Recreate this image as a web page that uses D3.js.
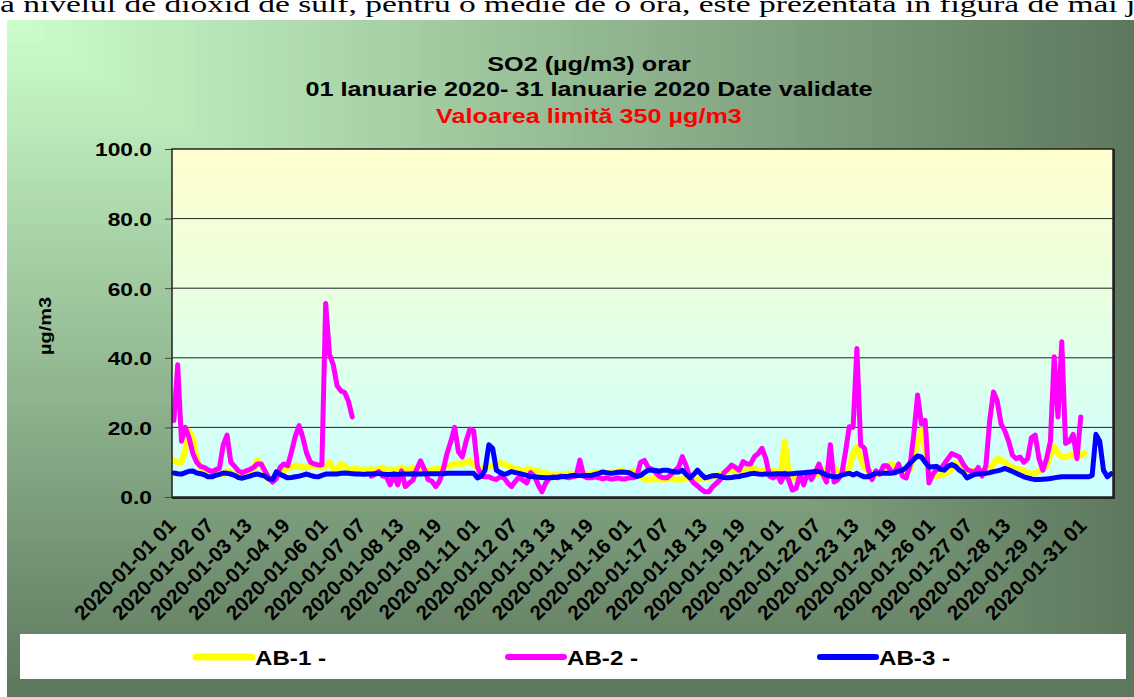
<!DOCTYPE html>
<html>
<head>
<meta charset="utf-8">
<script src="https://cdn.jsdelivr.net/npm/d3@7"></script>
<style>
  body { margin: 0; background: #fff; overflow: hidden; }
  svg { display: block; }
  .sans { font-family: "Liberation Sans", Arial, sans-serif; font-weight: bold; }
</style>
</head>
<body>
<div id="chart"></div>
<script>
// hourly categories, 01.01.2020 01h .. 31.01.2020 24h; one reading kept every 3 hours
const hourCount = 744;
const step = 3;

const tickLabels = [
  "2020-01-01 01", "2020-01-02 07", "2020-01-03 13", "2020-01-04 19", "2020-01-06 01",
  "2020-01-07 07", "2020-01-08 13", "2020-01-09 19", "2020-01-11 01", "2020-01-12 07",
  "2020-01-13 13", "2020-01-14 19", "2020-01-16 01", "2020-01-17 07", "2020-01-18 13",
  "2020-01-19 19", "2020-01-21 01", "2020-01-22 07", "2020-01-23 13", "2020-01-24 19",
  "2020-01-26 01", "2020-01-27 07", "2020-01-28 13", "2020-01-29 19", "2020-01-31 01"
];
const yTicks = [0, 20, 40, 60, 80, 100];

const ab1 = [
  10.5, 10, 10, 13.5, 19, 17, 11, 8.5, 7.5, 7,
  6.5, 7, 7, 6.5, 7.5, 7, 6.5, 7, 6.5, 7,
  7.5, 8, 10.5, 9.5, 7, 5, 5, 5.5, 6.5, 7.5,
  8.5, 8.5, 9, 9, 8.5, 8.5, 9, 9, 9, 8.5,
  9, 10, 8, 7.7, 9.5, 9, 7.5, 8, 8.3, 7.5,
  8, 7.7, 8, 7.7, 8, 8.5, 7.5, 8, 7.5, 8,
  8.5, 8, 7.5, 8.5, 8, 7.5, 8, 7.5, 8, 8,
  8, 8.5, 9, 9, 9.5, 9.7, 9.5, 10, 10.4, 9.5,
  8.5, 8, 8.5, 9, 9, 9.5, 9.8, 9.5, 9, 8.5,
  8, 8, 7.5, 8, 8, 7.5, 7.5, 7, 7, 6.5,
  6.5, 6.5, 6.5, 6.5, 6.8, 6.5, 6.5, 6.5, 6.8, 6.5,
  6.8, 7, 6.8, 7, 7, 7, 7.2, 7.5, 7.5, 7.2,
  7, 7.5, 7, 6, 5, 5, 5, 5.5, 5, 5,
  5, 5.5, 5, 5, 5, 5.5, 5.5, 5, 5, 5.2,
  5.5, 5.5, 5.8, 6, 6.5, 7, 7.5, 7.7, 7.5, 6.6,
  7, 7.8, 8.5, 8, 7.5, 7.7, 7.7, 7.5, 7.5, 7,
  7, 15.9, 7, 5.5, 5.5, 6, 6, 6, 6.2, 6.5,
  6.6, 7, 8, 9.6, 8.5, 7.5, 7.5, 8, 8.5, 12.5,
  14.4, 11, 8.5, 7.5, 7, 6.6, 6.8, 7.5, 8.5, 9.5,
  9, 8, 7.5, 7.5, 8, 12, 15, 19.2, 14, 6.6,
  6, 6, 6.2, 6.6, 7, 8, 9.7, 9, 8, 7.5,
  7.5, 7.5, 7.5, 7.5, 7.5, 8, 9.5, 11, 10.5, 10,
  9, 8.5, 8, 8, 7.5, 7, 6.6, 7, 7.5, 8,
  9, 12, 14.4, 12.5, 11.5, 11.5, 12, 12, 11.5, 12,
  12.6, null, null, null, null, null, null, null
];

const ab2 = [
  22, 38, 16, 20, 17, 12.5, 10, 8.8, 8.5, 7.8,
  7.3, 7.8, 8.3, 15, 17.8, 10, 8.8, 7.5, 7, 7.5,
  7.9, 8.5, 9.5, 9.5, 7.5, 5.5, 4.3, 5.3, 8.5, 9.5,
  9, 13, 17.5, 20.5, 17, 12.5, 10, 9.5, 9.2, 9.2,
  55.6, 41, 38, 32, 30.5, 30, 27.5, 23, null, null,
  null, null, 6, 6.5, 7.3, 6, 5.8, 3.5, 6.5, 3.5,
  7.5, 3, 4, 4.8, 8, 10.4, 8, 5, 4.5, 3,
  4.5, 8, 12.6, 16, 20, 13, 11.5, 16, 19.5, 19,
  8.7, 6, 5.8, 5.8, 5.3, 5, 5.8, 5.5, 4, 3,
  4.5, 5.8, 4.8, 4, 7, 6, 3.5, 1.5, 4, 5.5,
  5.8, 5.5, 6, 5.8, 5.5, 5.8, 6, 10.6, 6, 5.5,
  5.5, 5.8, 5.5, 5.2, 5.5, 5.2, 5.2, 5.5, 5.2, 5.2,
  5.5, 5.5, 6, 10, 10.5, 8.5, 8, 7, 5.9, 5.5,
  5.5, 6.5, 7.5, 8.5, 11.6, 9, 5.5, 4, 3.2, 2.2,
  1.5, 1.5, 3, 4, 5, 7, 8, 9.2, 8.5, 7.7,
  10.2, 9.5, 9.5, 11.6, 12.5, 14, 11, 6, 5.5, 6.5,
  4.3, 6.9, 5, 2, 2.5, 6.5, 3.5, 7, 5, 7,
  9.5, 6.5, 4.3, 15, 4.3, 5, 6.5, 13, 20.2, 20,
  42.7, 15, 14, 8, 5, 7.5, 6.5, 9, 9, 7.5,
  7, 9.5, 6, 5.5, 9, 18, 29.3, 21, 22, 4,
  6.5, 8, 8, 9.5, 11, 12.5, 12, 11.5, 9.5, 8,
  7.5, 7, 8.5, 6, 9, 22, 30.2, 27.5, 21, 19,
  16, 12, 11, 11.5, 10, 11, 17, 17.8, 11, 7.7,
  11, 16, 40.3, 23, 44.6, 15.4, 16, 18, 11, 23,
  null, null, null, null, null, null, null, null
];

const ab3 = [
  6.9, 6.7, 6.6, 7, 7.4, 7.5, 6.9, 6.7, 6.4, 5.8,
  5.8, 6.2, 6.5, 6.9, 6.8, 6.6, 6.2, 5.6, 5.4, 5.7,
  6, 6.4, 6.6, 6.3, 6, 5.2, 5, 7.2, 6.5, 6,
  5.5, 5.6, 5.8, 6, 6.3, 6.6, 6.2, 5.9, 5.8, 6.2,
  6.6, 6.6, 6.6, 6.6, 6.8, 6.9, 6.8, 6.7, 6.6, 6.6,
  6.5, 6.6, 6.6, 6.7, 6.8, 6.6, 6.5, 6.5, 6.6, 6.5,
  6.6, 6.6, 6.6, 6.7, 6.6, 6.6, 6.7, 6.7, 6.7, 6.7,
  6.7, 6.7, 6.8, 6.8, 6.8, 6.8, 6.8, 6.8, 6.8, 6.8,
  5.5, 6, 7.7, 15, 14, 7.7, 7, 6.5, 6.8, 7.3,
  7, 6.8, 6.5, 6.2, 5.9, 5.8, 5.7, 5.6, 5.5, 5.5,
  5.6, 5.7, 5.8, 5.9, 6, 6.2, 6.2, 6.2, 6.2, 6.2,
  6.2, 6.5, 6.8, 7.2, 7, 6.8, 6.9, 7.1, 7.2, 7.1,
  7, 6.4, 5.9, 6.2, 7, 7.7, 7.7, 7.6, 7.4, 7.7,
  7.7, 7.4, 7.2, 7.2, 7.7, 6.5, 5.5, 6.5, 7.7, 6.5,
  5.5, 5.8, 6.1, 6.2, 5.9, 5.6, 5.5, 5.6, 5.8, 5.9,
  6.2, 6.4, 6.7, 6.8, 6.6, 6.5, 6.6, 6.6, 6.6, 6.7,
  6.7, 6.6, 6.6, 6.7, 6.8, 6.9, 7, 7.1, 7.2, 7.3,
  7.3, 6.8, 6.3, 6, 5.8, 5.8, 6.3, 6.6, 6.8, 6.3,
  6.8, 6.2, 5.8, 5.8, 6.3, 6.8, 6.8, 6.8, 6.8, 6.8,
  7, 7.5, 7.7, 8.5, 9.7, 10.8, 11.8, 11.5, 10, 8.6,
  8.7, 8.8, 8, 7.7, 8.8, 9.3, 8.8, 7.7, 7, 5.5,
  6, 6.5, 6.6, 6.7, 6.8, 7, 7.3, 7.5, 7.8, 8.2,
  7.8, 7.3, 6.8, 6.3, 5.8, 5.5, 5.2, 5, 5, 5.1,
  5.2, 5.3, 5.5, 5.7, 5.8, 5.8, 5.8, 5.8, 5.8, 5.8,
  5.8, 5.8, 6.2, 18, 16, 7.7, 5.8, 6.7
];

const seriesNames = ["AB-1 -", "AB-2 -", "AB-3 -"];
const seriesColors = ["#ffff00", "#ff00ff", "#0000ff"];
const seriesWidths = [6, 5, 5];
const seriesData = [ab1, ab2, ab3];

const W = 1134, H = 697;
const frame = { x: 7, y: 20, w: 1127, h: 677 };
const plot = { left: 172, right: 1113, top: 149, bottom: 497 };
const sx = 1.2; // the picture is stretched sideways

const svg = d3.select("#chart").append("svg")
  .attr("width", W)
  .attr("height", H);

const defs = svg.append("defs");
const plotGrad = defs.append("linearGradient")
  .attr("id", "plotGrad")
  .attr("x1", 0).attr("y1", 0).attr("x2", 0).attr("y2", 1);
plotGrad.append("stop").attr("offset", 0).attr("stop-color", "#ffffcc");
plotGrad.append("stop").attr("offset", 1).attr("stop-color", "#ccffff");

// page text above the chart, cut by the top edge as in the document
const introText = "a nivelul de dioxid de sulf, pentru o medie de o oră, este prezentată în figura de mai jos.";
const intro = svg.append("text")
  .attr("font-family", "'Liberation Serif', 'Times New Roman', serif")
  .attr("font-size", 24)
  .text(introText);
const introLen = intro.node().getSubStringLength(0, introText.indexOf("jos") + 1);
intro.attr("transform", `translate(0,12) scale(${1136 / introLen},1)`);

// chart background: light corner top-left, darkening toward right and bottom
const bgColor = d3.interpolateRgb("#ccffcc", "#5e785e");
const bgSteps = d3.range(120, 0, -1).map(k => k / 120);
svg.append("g").selectAll("rect")
  .data(bgSteps)
  .join("rect")
    .attr("x", frame.x)
    .attr("y", frame.y)
    .attr("width", t => frame.w * t + 1)
    .attr("height", t => frame.h * t + 1)
    .attr("fill", t => bgColor(t));

const x = d3.scaleLinear().domain([0, hourCount]).range([plot.left, plot.right]);
const y = d3.scaleLinear().domain([0, 100]).range([plot.bottom, plot.top]);

// titles
const titles = [
  { text: "SO2 (µg/m3) orar", y: 71, color: "#000" },
  { text: "01 Ianuarie 2020- 31 Ianuarie 2020 Date validate", y: 96, color: "#000" },
  { text: "Valoarea limită 350 µg/m3", y: 123, color: "#ff0000" }
];
svg.append("g").selectAll("text")
  .data(titles)
  .join("text")
    .attr("class", "sans")
    .attr("font-size", 21)
    .attr("text-anchor", "middle")
    .attr("fill", d => d.color)
    .attr("transform", d => `translate(589,${d.y}) scale(${sx},1)`)
    .text(d => d.text);

// plot area
svg.append("rect")
  .attr("x", plot.left)
  .attr("y", plot.top)
  .attr("width", plot.right - plot.left)
  .attr("height", plot.bottom - plot.top)
  .attr("fill", "url(#plotGrad)");

svg.append("g").selectAll("line")
  .data(yTicks.filter(v => v > 0 && v < 100))
  .join("line")
    .attr("x1", plot.left)
    .attr("x2", plot.right)
    .attr("y1", d => y(d))
    .attr("y2", d => y(d))
    .attr("stroke", "#222")
    .attr("stroke-width", 1);

// y axis
const yAxis = svg.append("g")
  .attr("class", "sans")
  .attr("transform", `translate(${plot.left},0)`)
  .call(d3.axisLeft(y).tickValues(yTicks).tickSize(7).tickFormat(d3.format(".1f")));
yAxis.select(".domain").remove();
yAxis.selectAll(".tick line").attr("stroke", "#444");
yAxis.selectAll(".tick text")
  .attr("x", 0)
  .attr("dy", "0.36em")
  .attr("font-size", 19)
  .attr("font-family", "'Liberation Sans', Arial, sans-serif")
  .attr("fill", "#000")
  .attr("text-anchor", "end")
  .attr("transform", `translate(-20,0) scale(${sx},1)`);

svg.append("text")
  .attr("class", "sans")
  .attr("font-size", 16)
  .attr("text-anchor", "middle")
  .attr("textLength", 58)
  .attr("lengthAdjust", "spacingAndGlyphs")
  .attr("transform", "translate(51,326) rotate(-90)")
  .text("µg/m3");

// x axis, category labels every 30 hours
const xAxis = svg.append("g")
  .attr("class", "sans")
  .attr("transform", `translate(0,${plot.bottom})`)
  .call(d3.axisBottom(x)
    .tickValues(tickLabels.map((_, i) => i * 30 + 0.5))
    .tickSize(0)
    .tickFormat((d, i) => tickLabels[i]));
xAxis.select(".domain").remove();
xAxis.selectAll(".tick text")
  .attr("y", 0)
  .attr("dy", 0)
  .attr("font-size", 20.5)
  .attr("font-family", "'Liberation Sans', Arial, sans-serif")
  .attr("fill", "#000")
  .attr("text-anchor", "end")
  .attr("transform", "translate(4,30) rotate(-45)");

// series
const line = d3.line()
  .defined(d => d.v != null)
  .x(d => x(d.h + 0.5))
  .y(d => y(d.v));

svg.append("g").selectAll("path")
  .data(seriesData.map((arr, s) => ({ s, pts: arr.map((v, i) => ({ h: i * step + 1, v })) })))
  .join("path")
    .attr("fill", "none")
    .attr("stroke", d => seriesColors[d.s])
    .attr("stroke-width", d => seriesWidths[d.s])
    .attr("stroke-linejoin", "round")
    .attr("stroke-linecap", "round")
    .attr("d", d => line(d.pts));

// plot border
svg.append("rect")
  .attr("x", plot.left)
  .attr("y", plot.top)
  .attr("width", plot.right - plot.left)
  .attr("height", plot.bottom - plot.top)
  .attr("fill", "none")
  .attr("stroke", "#222")
  .attr("stroke-width", 1.5);
svg.append("path")
  .attr("d", `M${plot.left},${plot.bottom + 1}H${plot.right + 1}V${plot.top}`)
  .attr("fill", "none")
  .attr("stroke", "#222")
  .attr("stroke-width", 2);

// legend
const legend = svg.append("g");
legend.append("rect")
  .attr("x", 20)
  .attr("y", 634)
  .attr("width", 1106)
  .attr("height", 45)
  .attr("fill", "#fff");

const item = legend.selectAll("g")
  .data(seriesNames)
  .join("g")
    .attr("transform", (d, i) => `translate(${196 + i * 312},657)`);
item.append("line")
  .attr("x1", 0)
  .attr("x2", 56)
  .attr("stroke", (d, i) => seriesColors[i])
  .attr("stroke-width", (d, i) => seriesWidths[i] + 1)
  .attr("stroke-linecap", "round");
item.append("text")
  .attr("class", "sans")
  .attr("font-size", 21)
  .attr("transform", `translate(59,8) scale(1.15,1)`)
  .text(d => d);
</script>
</body>
</html>
